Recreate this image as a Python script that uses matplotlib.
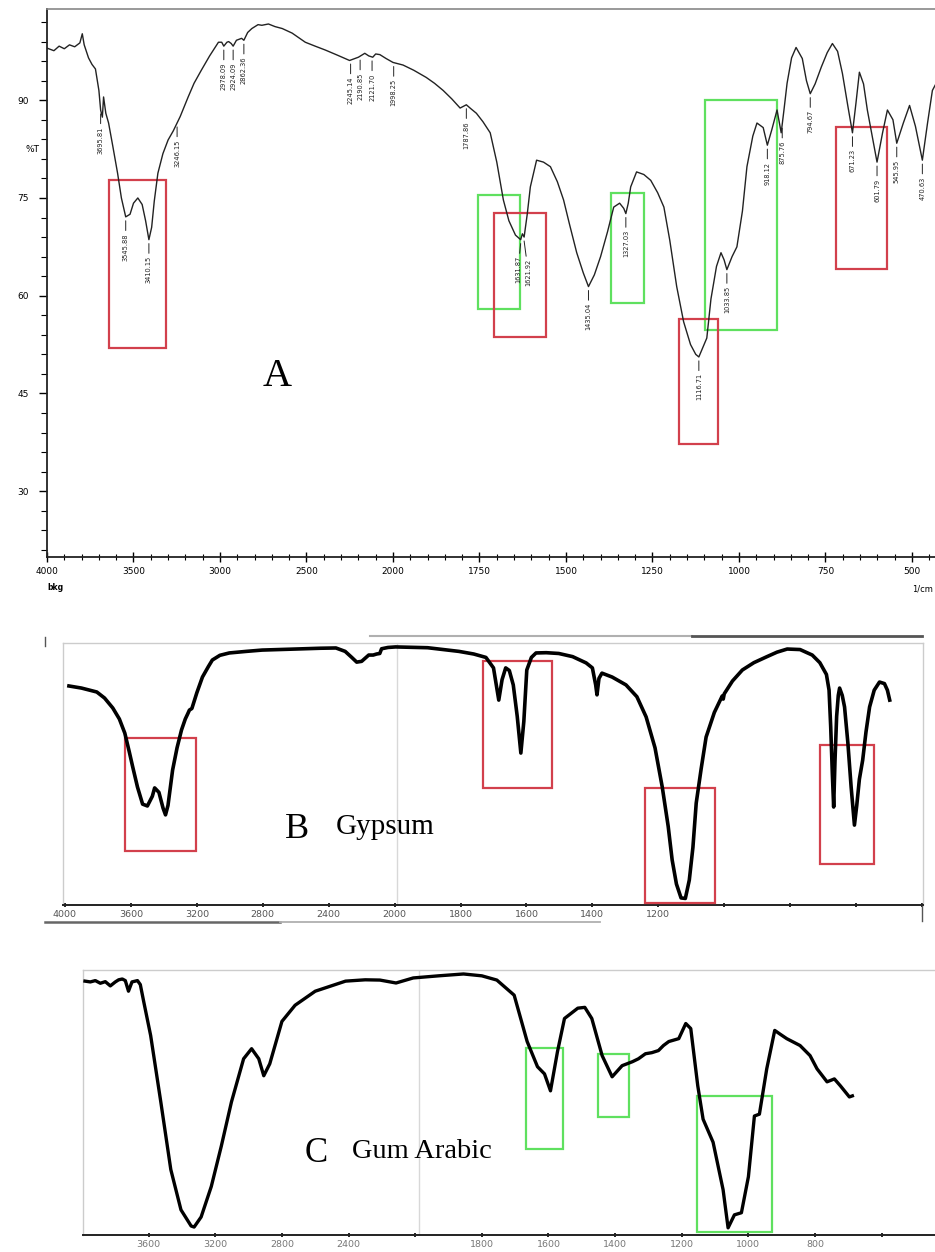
import numpy as np
import matplotlib
matplotlib.use('Agg')
import matplotlib.pyplot as plt
from matplotlib.lines import Line2D
from matplotlib.patches import Rectangle

# ---------------- data ----------------
# Panel A: composite spectrum (%T vs wavenumber, 1/cm)
A_wn = [4000, 3960, 3930, 3900, 3870, 3840, 3810, 3796, 3785, 3760, 3740, 3720, 3700, 3690,
        3680, 3673, 3660, 3644, 3620, 3592, 3570, 3545, 3520, 3500, 3475, 3450, 3430, 3411,
        3395, 3380, 3359, 3330, 3300, 3270, 3248, 3230, 3184, 3150, 3108, 3060, 3009, 2990,
        2978, 2960, 2950, 2935, 2924, 2905, 2875, 2862, 2840, 2816, 2780, 2758, 2720, 2682,
        2640, 2583, 2540, 2507, 2450, 2391, 2320, 2251, 2230, 2200, 2163, 2140, 2117, 2100,
        2076, 2040, 2000, 1971, 1940, 1904, 1880, 1855, 1830, 1806, 1788, 1775, 1759, 1740,
        1719, 1700, 1681, 1665, 1646, 1631, 1626, 1621, 1612, 1603, 1585, 1565, 1545, 1525,
        1507, 1490, 1469, 1450, 1435, 1418, 1400, 1380, 1362, 1345, 1333, 1327, 1320, 1313,
        1296, 1275, 1255, 1235, 1217, 1200, 1180, 1160, 1140, 1125, 1116, 1105, 1093, 1081,
        1065, 1052, 1043, 1035, 1020, 1006, 990, 977, 960, 948, 930, 918, 905, 890, 878, 870,
        861, 848, 835, 817, 805, 794, 780, 762, 745, 730, 715, 701, 685, 672, 662, 652, 640,
        629, 615, 601, 585, 571, 555, 544, 525, 507, 490, 470, 455, 441, 421]
A_T = [98.0, 97.6, 98.3, 97.9, 98.5, 98.2, 98.8, 100.2, 98.5, 96.5, 95.5, 94.8, 91.5, 88.5,
       87.4, 90.5, 88.0, 86.5, 83.0, 78.8, 75.0, 72.1, 72.5, 74.2, 75.0, 74.0, 71.5, 68.6,
       70.5, 74.5, 78.8, 81.8, 83.9, 85.3, 86.5, 87.5, 90.5, 92.6, 94.6, 96.8, 98.9, 98.9,
       98.3, 98.9, 99.0, 98.7, 98.3, 99.2, 99.5, 99.2, 100.4, 101.0, 101.6, 101.5, 101.7, 101.3,
       101.0, 100.3, 99.5, 98.9, 98.3, 97.7, 96.9, 96.1, 96.3, 96.6, 97.2, 96.8, 96.6, 97.1,
       97.0, 96.4, 95.8, 95.4, 94.6, 93.5, 92.6, 91.5, 90.2, 88.8, 89.3, 88.7, 88.0, 86.7,
       85.0, 80.5, 74.7, 71.5, 69.3, 68.6, 69.5, 69.0, 72.5, 76.7, 80.8, 80.5, 79.8, 77.5,
       74.7, 71.0, 66.6, 63.5, 61.4, 63.2, 66.0, 69.8, 73.6, 74.2, 73.4, 72.6, 74.2, 76.7,
       79.0, 78.6, 77.7, 75.8, 73.6, 68.5, 61.4, 56.0, 52.5, 51.0, 50.6, 52.0, 53.5, 59.5,
       64.5, 66.6, 65.5, 64.0, 66.0, 67.5, 73.0, 79.8, 84.5, 86.5, 85.8, 83.1, 85.5, 88.5, 85.0, 88.5,
       92.6, 96.5, 98.1, 96.4, 93.0, 91.0, 92.5, 95.1, 97.3, 98.7, 97.5, 94.1, 89.0, 85.0, 89.5, 94.3, 92.5,
       88.5, 84.5, 80.5, 85.0, 88.5, 87.0, 83.4, 86.5, 89.2, 86.0, 80.8, 86.5, 91.5, 93.5]
A_peak_wn = [3690, 3545, 3411, 3248, 2978, 2924, 2862, 2245, 2190, 2121, 1998, 1788,
             1631, 1621, 1435, 1327, 1116, 1035, 918, 875, 794, 672, 601, 544, 470]
A_peak_lbl = ['3695.81', '3545.88', '3410.15', '3246.15', '2978.09', '2924.09', '2862.36',
              '2245.14', '2190.85', '2121.70', '1998.25', '1787.86', '1631.87', '1621.92',
              '1435.04', '1327.03', '1116.71', '1033.85', '918.12', '875.76', '794.67',
              '671.23', '601.79', '545.95', '470.63']

# Panel B: Gypsum (arbitrary transmittance)
B_wn = [3976, 3900, 3807, 3760, 3710, 3670, 3637, 3610, 3589, 3560, 3529, 3500, 3470, 3456,
        3430, 3405, 3390, 3375, 3347, 3320, 3293, 3270, 3255, 3245, 3230, 3200, 3166, 3130,
        3106, 3060, 3003, 2900, 2804, 2600, 2450, 2356, 2300, 2260, 2230, 2200, 2157, 2130,
        2109, 2090, 2079, 2040, 1997, 1900, 1805, 1760, 1723, 1700, 1684, 1674, 1663, 1652,
        1640, 1628, 1617, 1608, 1599, 1585, 1571, 1540, 1502, 1460, 1419, 1400, 1390, 1386,
        1380, 1371, 1340, 1298, 1265, 1237, 1210, 1188, 1170, 1158, 1145, 1131, 1118, 1106,
        1095, 1085, 1070, 1055, 1030, 1006, 1003, 1000, 975, 945, 910, 872, 840, 809, 770,
        733, 710, 690, 682, 677, 672, 668, 664, 659, 654, 650, 642, 635, 625, 615, 605, 598,
        590, 580, 570, 559, 545, 529, 514, 505, 498]
B_T = [83.6, 82.8, 81.3, 79.0, 75.2, 71.0, 65.6, 58.5, 52.7, 45.0, 38.5, 37.8, 41.5, 44.7,
       43.0, 37.0, 34.4, 38.0, 51.5, 60.0, 66.8, 71.0, 73.0, 74.4, 75.0, 81.0, 87.0, 91.0,
       93.5, 95.3, 96.2, 96.8, 97.3, 97.7, 98.0, 98.1, 96.8, 94.5, 92.7, 93.0, 95.4, 95.4,
       95.8, 96.0, 97.8, 98.3, 98.5, 98.2, 96.8, 95.8, 94.5, 90.5, 78.2, 86.0, 90.5, 89.5,
       84.0, 72.0, 58.0, 70.0, 89.7, 94.5, 96.2, 96.3, 96.0, 94.8, 92.4, 90.5, 84.0, 80.2,
       86.5, 88.5, 87.0, 84.0, 79.5, 71.8, 60.0, 45.0, 30.0, 17.2, 8.0, 2.7, 2.5, 9.5,
       22.0, 38.9, 52.0, 64.1, 73.5, 79.8, 78.6, 80.6, 85.5, 89.7, 92.5, 94.7, 96.5, 97.7, 97.5,
       95.4, 92.5, 88.0, 82.0, 68.0, 50.0, 37.4, 55.0, 72.0, 80.0, 82.8, 80.0, 75.6, 62.0, 45.0, 30.5, 38.0,
       48.0, 55.3, 66.0, 75.6, 82.0, 85.1, 84.5, 82.0, 78.2]

# Panel C: Gum Arabic (arbitrary transmittance)
C_wn = [3982, 3950, 3920, 3890, 3860, 3830, 3800, 3780, 3758, 3740, 3721, 3700, 3667, 3650,
        3630, 3588, 3527, 3467, 3406, 3345, 3327, 3285, 3224, 3164, 3103, 3030, 2982, 2939,
        2909, 2873, 2800, 2721, 2600, 2418, 2300, 2212, 2115, 2012, 1930, 1855, 1800, 1755,
        1703, 1664, 1633, 1612, 1594, 1573, 1552, 1512, 1491, 1470, 1439, 1409, 1379, 1348,
        1330, 1309, 1290, 1270, 1255, 1239, 1209, 1188, 1173, 1152, 1136, 1106, 1076, 1061,
        1042, 1021, 1000, 982, 967, 945, 921, 905, 885, 865, 845, 815, 794, 764, 742, 724,
        697, 688]
C_T = [95.8, 95.5, 96.0, 95.0, 95.6, 94.0, 95.5, 96.3, 96.6, 96.0, 92.0, 95.5, 96.0, 94.5,
       88.2, 75.3, 50.2, 24.7, 9.5, 3.4, 3.0, 6.8, 18.3, 33.5, 50.2, 66.5, 70.3, 66.5,
       60.1, 64.6, 80.6, 86.7, 92.0, 95.8, 96.3, 96.2, 95.1, 97.0, 97.8, 98.5, 97.8, 96.2,
       90.5, 73.0, 63.5, 60.8, 54.4, 69.2, 81.7, 85.6, 85.9, 81.7, 67.7, 59.7, 63.9, 65.4,
       66.5, 68.4, 68.8, 69.6, 71.5, 73.0, 74.1, 79.8, 77.9, 56.3, 43.7, 35.0, 17.1, 2.7,
       7.6, 8.4, 22.0, 44.9, 45.6, 62.7, 77.2, 75.8, 74.1, 72.8, 71.5, 67.7, 62.7, 57.8, 58.9, 56.3,
       52.1, 52.5]

# highlight boxes: (wn_high, wn_low, T_top, T_bottom)
A_red = [(3644, 3312, 77.7, 52.0), (1707, 1559, 72.7, 53.7), (1174, 1061, 56.5, 37.2), (719, 571, 85.9, 64.1)]
A_green = [(1754, 1632, 75.4, 58.0), (1371, 1275, 75.8, 58.9), (1099, 890, 90.0, 54.8)]
B_red = [(3637, 3202, 63.7, 20.6), (1733, 1523, 93.1, 44.7), (1240, 1027, 44.7, 0.8), (708, 547, 61.1, 15.6)]
C_green = [(1667, 1555, 70.7, 32.3), (1452, 1358, 68.4, 44.5), (1155, 930, 52.5, 1.1)]

A_xticks = [4000, 3500, 3000, 2500, 2000, 1750, 1500, 1250, 1000, 750, 500]
A_yticks = [90, 75, 60, 45, 30]
B_xticks = [4000, 3600, 3200, 2800, 2400, 2000, 1800, 1600, 1400, 1200, 1000, 800, 600, 400]
B_xlabels = ['4000', '3600', '3200', '2800', '2400', '2000', '1800', '1600', '1400', '1200', '', '', '', '']
C_xticks = [3600, 3200, 2800, 2400, 2000, 1800, 1600, 1400, 1200, 1000, 800, 600]
C_xlabels = ['3600', '3200', '2800', '2400', '', '1800', '1600', '1400', '1200', '1000', '800', '']

# ---------------- drawing ----------------
def fwd(x):
    x = np.asarray(x, dtype=float)
    return np.where(x >= 2000, x, 2 * x - 2000)

def inv(y):
    y = np.asarray(y, dtype=float)
    return np.where(y >= 2000, y, (y + 2000) / 2)

W, H = 935, 1252
fig = plt.figure(figsize=(W / 100, H / 100), dpi=100)
fig.patch.set_facecolor('white')

def px_axes(l, t, r, b):
    return fig.add_axes([l / W, 1 - b / H, (r - l) / W, (b - t) / H])

RED = '#d2404c'
GREEN = '#5fe05f'
SERIF = ['Liberation Serif', 'DejaVu Serif']

def boxes(ax, lst, color, lw=1.6):
    for hi, lo, top, bot in lst:
        ax.add_patch(Rectangle((lo, bot), hi - lo, top - bot, fill=False, ec=color, lw=lw, zorder=3))

# ---- Panel A ----
axA = px_axes(47, 9, 940, 557)
axA.set_xscale('function', functions=(fwd, inv))
axA.plot(A_wn, A_T, color='#222222', lw=1.0, zorder=4)
axA.set_xlim(4000, 419)
axA.set_ylim(19.9, 104.0)
axA.set_xticks(A_xticks)
axA.set_xticklabels([str(t) for t in A_xticks])
minA = [v for v in range(3900, 2000, -100) if v not in A_xticks] + \
       [v for v in range(1950, 420, -50) if v not in A_xticks]
axA.set_xticks(minA, minor=True)
axA.set_yticks(A_yticks)
axA.set_yticks(np.arange(21, 104, 3), minor=True)
axA.tick_params(axis='x', which='major', direction='inout', length=7, width=1.0, labelsize=6.5, pad=4)
axA.tick_params(axis='x', which='minor', direction='inout', length=4, width=0.8)
axA.tick_params(axis='y', which='major', direction='out', length=6, width=1.0, labelsize=6.5, pad=7)
axA.tick_params(axis='y', which='minor', direction='out', length=4, width=0.8)
for s in ['left', 'bottom']:
    axA.spines[s].set_linewidth(1.3)
    axA.spines[s].set_color('#222222')
axA.spines['top'].set_color('#888888')
axA.spines['top'].set_linewidth(1.2)
axA.spines['right'].set_visible(False)
boxes(axA, A_green, GREEN)
boxes(axA, A_red, RED)
A_wn_rev = np.array(A_wn[::-1], dtype=float)
A_T_rev = np.array(A_T[::-1], dtype=float)
for wn, lab in zip(A_peak_wn, A_peak_lbl):
    t = np.interp(wn, A_wn_rev, A_T_rev)
    dx, dy = 0, -9
    if lab == '1621.92':
        dx, dy = 3, -13
    elif lab == '1631.87':
        dx, dy = -2, -9
    axA.annotate(lab, xy=(wn, t - 0.6), xytext=(dx, dy), textcoords='offset points',
                 rotation=90, ha='center', va='top', fontsize=4.8, color='#222222',
                 arrowprops=dict(arrowstyle='-', lw=0.7, color='#222222', shrinkA=0, shrinkB=0),
                 zorder=5)
axA.text(2671, 47.6, 'A', family=SERIF, fontsize=29, ha='center', va='center')
fig.text(33 / W, 1 - 150 / H, '%T', fontsize=6.5, ha='center', va='center')
fig.text(47 / W, 1 - 588 / H, 'bkg', fontsize=5.5, ha='left', va='center', weight='bold')
fig.text(912 / W, 1 - 589 / H, '1/cm', fontsize=6, ha='left', va='center')

# ---- Panel B ----
axB = px_axes(63, 643, 923, 905)
axB.set_xscale('function', functions=(fwd, inv))
axB.axvline(1994, color='#d8d8d8', lw=1.0, zorder=1)
axB.plot(B_wn, B_T, color='black', lw=2.6, zorder=4, solid_joinstyle='round')
axB.set_xlim(4012, 397)
axB.set_ylim(0, 100)
axB.set_yticks([])
axB.set_xticks(B_xticks)
axB.set_xticklabels(B_xlabels)
axB.tick_params(axis='x', direction='inout', length=3, width=1.2, labelsize=6.8,
                labelcolor='#555555', pad=2)
for s in ['left', 'top', 'right']:
    axB.spines[s].set_color('#cccccc')
    axB.spines[s].set_linewidth(1.0)
axB.spines['bottom'].set_color('#222222')
axB.spines['bottom'].set_linewidth(1.4)
boxes(axB, B_red, RED)
fig.text(297 / W, 1 - 829 / H, 'B', family=SERIF, fontsize=26, ha='center', va='center')
fig.text(336 / W, 1 - 827 / H, 'Gypsum', family=SERIF, fontsize=21, ha='left', va='center')

# ---- Panel C ----
axC = px_axes(83, 970, 945, 1235)
axC.set_xscale('function', functions=(fwd, inv))
axC.axvline(1988, color='#d8d8d8', lw=1.0, zorder=1)
axC.plot(C_wn, C_T, color='black', lw=2.4, zorder=4, solid_joinstyle='round')
axC.set_xlim(3994, 410)
axC.set_ylim(0, 100)
axC.set_yticks([])
axC.set_xticks(C_xticks)
axC.set_xticklabels(C_xlabels)
axC.tick_params(axis='x', direction='inout', length=3, width=1.2, labelsize=6.8,
                labelcolor='#777777', pad=2)
for s in ['left', 'top', 'right']:
    axC.spines[s].set_color('#cccccc')
    axC.spines[s].set_linewidth(1.0)
axC.spines['bottom'].set_color('#222222')
axC.spines['bottom'].set_linewidth(1.4)
boxes(axC, C_green, GREEN)
fig.text(316 / W, 1 - 1153 / H, 'C', family=SERIF, fontsize=25, ha='center', va='center')
fig.text(352 / W, 1 - 1152 / H, 'Gum Arabic', family=SERIF, fontsize=20.5, ha='left', va='center')

# ---- decorative scrollbar-like lines around panel B ----
def hline(x0, x1, y, color, lw):
    fig.add_artist(Line2D([x0 / W, x1 / W], [1 - y / H, 1 - y / H], transform=fig.transFigure,
                          color=color, lw=lw))

def vline(x, y0, y1, color, lw):
    fig.add_artist(Line2D([x / W, x / W], [1 - y0 / H, 1 - y1 / H], transform=fig.transFigure,
                          color=color, lw=lw))

hline(370, 692, 636, '#b0b0b0', 1.5)
hline(692, 922, 636, '#555555', 2.0)
hline(45, 280, 922, '#666666', 1.8)
hline(280, 600, 922, '#b0b0b0', 1.3)
vline(45, 637, 646, '#555555', 1.0)
vline(922, 906, 921, '#555555', 1.0)

fig.savefig('out.png', dpi=100, facecolor='white')
